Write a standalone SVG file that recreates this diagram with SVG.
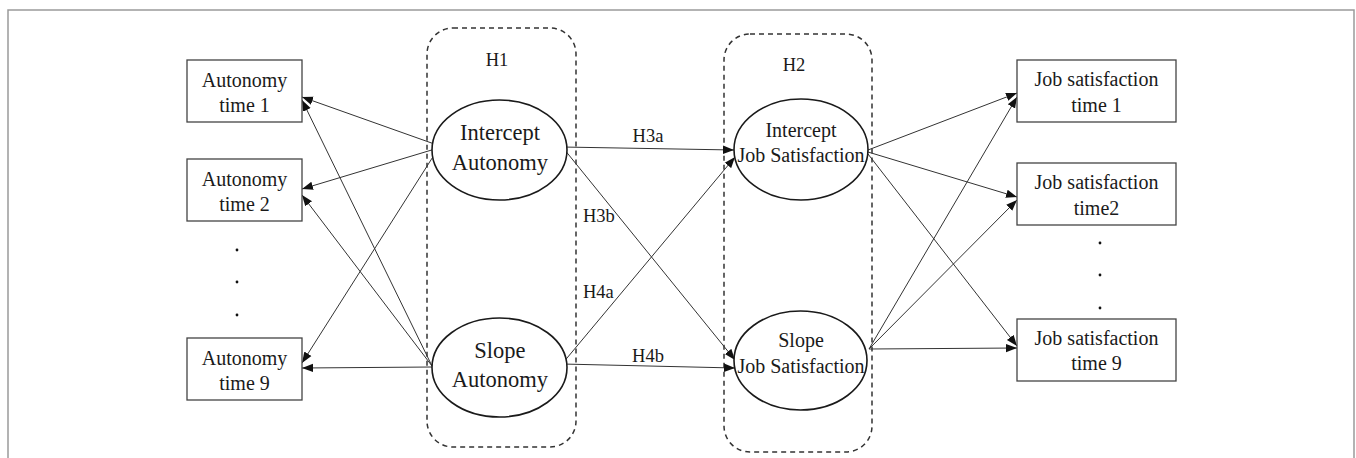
<svg xmlns="http://www.w3.org/2000/svg" width="1356" height="458" viewBox="0 0 1356 458">
<defs>
<marker id="arr" markerWidth="12" markerHeight="10" refX="11" refY="5" orient="auto" markerUnits="userSpaceOnUse">
<path d="M0,0.8 L11,5 L0,9.2 Z" fill="#111"/>
</marker>
</defs>
<style>
.frame{fill:none;stroke:#9a9a9a;stroke-width:1.5}
.box{fill:#fff;stroke:#444;stroke-width:1.3}
.ell{fill:#fff;stroke:#1a1a1a;stroke-width:1.6}
.grp{fill:none;stroke:#333;stroke-width:1.5;stroke-dasharray:5 4}
.t{fill:#1a1a1a;text-anchor:middle}
.t20{font-size:20px}
.t22{font-size:22.5px}
.lab{fill:#1a1a1a;font-size:18.5px}
.c{fill:none;stroke:#333;stroke-width:1;marker-end:url(#arr)}
.dot{fill:#111}
</style>
<rect width="1356" height="458" fill="#fff"/>
<path class="frame" d="M8,470 V10 H1354 V470"/>

<g font-family="Liberation Serif, Times New Roman, DejaVu Serif, serif">
<g id="group-H1">
<rect class="grp" x="427" y="28" width="149" height="419" rx="26"/>
<text class="lab" x="497" y="66" text-anchor="middle">H1</text>
</g>
<g id="group-H2">
<rect class="grp" x="724" y="34" width="148" height="418" rx="26"/>
<text class="lab" x="794" y="71" text-anchor="middle">H2</text>
</g>

<g id="connectors">
<line class="c" x1="440" y1="146" x2="302" y2="97"/>
<line class="c" x1="435" y1="149" x2="302" y2="189"/>
<line class="c" x1="436" y1="152" x2="302" y2="363"/>
<line class="c" x1="432" y1="366" x2="302" y2="100"/>
<line class="c" x1="432" y1="366" x2="302" y2="195"/>
<line class="c" x1="432" y1="367" x2="302" y2="368"/>
<line class="c" x1="562" y1="147" x2="734" y2="150"/>
<line class="c" x1="564" y1="149" x2="735" y2="360"/>
<line class="c" x1="562" y1="364" x2="735" y2="157"/>
<line class="c" x1="562" y1="364" x2="735" y2="368"/>
<line class="c" x1="868" y1="150" x2="1017" y2="93"/>
<line class="c" x1="868" y1="152" x2="1017" y2="197"/>
<line class="c" x1="868" y1="154" x2="1017" y2="346"/>
<line class="c" x1="869" y1="349" x2="1017" y2="97"/>
<line class="c" x1="869" y1="349" x2="1017" y2="200"/>
<line class="c" x1="869" y1="349" x2="1017" y2="348"/>
<text class="lab" x="648" y="142" text-anchor="middle">H3a</text>
<text class="lab" x="583" y="222">H3b</text>
<text class="lab" x="583" y="298">H4a</text>
<text class="lab" x="648" y="362" text-anchor="middle">H4b</text>
</g>

<g id="autonomy-time1">
<rect class="box" x="187" y="60" width="115" height="62"/>
<text class="t t20" x="244.5" y="87">Autonomy</text>
<text class="t t20" x="244.5" y="112">time 1</text>
</g>
<g id="autonomy-time2">
<rect class="box" x="187" y="159" width="115" height="62"/>
<text class="t t20" x="244.5" y="186">Autonomy</text>
<text class="t t20" x="244.5" y="211">time 2</text>
</g>
<g id="autonomy-dots">
<circle class="dot" cx="237" cy="250" r="1.4"/>
<circle class="dot" cx="237" cy="282" r="1.4"/>
<circle class="dot" cx="237" cy="315" r="1.4"/>
</g>
<g id="autonomy-time9">
<rect class="box" x="187" y="338" width="115" height="62"/>
<text class="t t20" x="244.5" y="365">Autonomy</text>
<text class="t t20" x="244.5" y="390">time 9</text>
</g>

<g id="intercept-autonomy">
<ellipse class="ell" cx="499.5" cy="150" rx="67.5" ry="50"/>
<text class="t t22" x="500" y="140">Intercept</text>
<text class="t t22" x="500" y="170">Autonomy</text>
</g>
<g id="slope-autonomy">
<ellipse class="ell" cx="499.5" cy="367.5" rx="67.5" ry="49.5"/>
<text class="t t22" x="500" y="358">Slope</text>
<text class="t t22" x="500" y="387">Autonomy</text>
</g>

<g id="intercept-job-satisfaction">
<ellipse class="ell" cx="801" cy="149.5" rx="67" ry="50.5"/>
<text class="t t20" x="801" y="137">Intercept</text>
<text class="t t20" x="801" y="162">Job Satisfaction</text>
</g>
<g id="slope-job-satisfaction">
<ellipse class="ell" cx="800.5" cy="360.5" rx="66.5" ry="49.5"/>
<text class="t t20" x="801" y="347">Slope</text>
<text class="t t20" x="801" y="373">Job Satisfaction</text>
</g>

<g id="job-satisfaction-time1">
<rect class="box" x="1017" y="60" width="159" height="62"/>
<text class="t t20" x="1096.5" y="86">Job satisfaction</text>
<text class="t t20" x="1096.5" y="112">time 1</text>
</g>
<g id="job-satisfaction-time2">
<rect class="box" x="1017" y="163" width="159" height="62"/>
<text class="t t20" x="1096.5" y="189">Job satisfaction</text>
<text class="t t20" x="1096.5" y="215">time2</text>
</g>
<g id="job-satisfaction-dots">
<circle class="dot" cx="1100" cy="243" r="1.4"/>
<circle class="dot" cx="1100" cy="275" r="1.4"/>
<circle class="dot" cx="1100" cy="308" r="1.4"/>
</g>
<g id="job-satisfaction-time9">
<rect class="box" x="1017" y="319" width="159" height="62"/>
<text class="t t20" x="1096.5" y="345">Job satisfaction</text>
<text class="t t20" x="1096.5" y="370">time 9</text>
</g>
</g>
</svg>
